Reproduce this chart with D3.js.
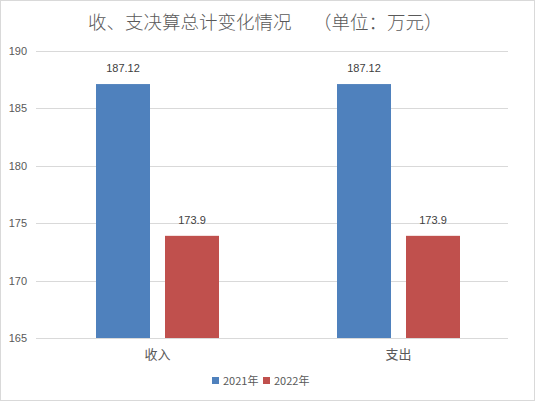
<!DOCTYPE html>
<html><head><meta charset="utf-8">
<script src="https://cdn.jsdelivr.net/npm/d3@7"></script>
<style>body{margin:0;background:#fff}svg{display:block}</style>
</head><body>
<svg id="c" width="535" height="401"></svg>
<script>
const categories = ["收入", "支出"];
const seriesNames = ["2021年", "2022年"];
const values2021 = [187.12, 187.12];
const values2022 = [173.9, 173.9];
const yTicks = [165, 170, 175, 180, 185, 190];
const titleParts = ["收、支决算总计变化情况", "（单位：万元）"];
const colors = ["#4F81BD", "#C0504D"];

const svg = d3.select("#c");
const W = 535, H = 401;
svg.append("rect").attr("x",0.5).attr("y",0.5).attr("width",W-1).attr("height",H-1)
  .attr("fill","#fff").attr("stroke","#d9d9d9");

const font = "'Noto Sans CJK SC', 'Noto Sans', sans-serif";
const plotL = 36, plotR = 508;
const y = d3.scaleLinear().domain([165,190]).range([338,51]);
const x = d3.scaleBand().domain(categories).range([37,519]).paddingInner(0).paddingOuter(0);

const titleX = [88, 313];
svg.append("g").selectAll("text").data(titleParts).join("text")
  .attr("x",(d,i)=>titleX[i]).attr("y",29).attr("text-anchor","start")
  .attr("font-family",font).attr("font-size",18.5).attr("font-weight",300).attr("fill","#595959")
  .text(d=>d);

// gridlines
svg.append("g").selectAll("line").data(yTicks).join("line")
  .attr("x1",plotL).attr("x2",plotR).attr("y1",d=>Math.round(y(d))+0.5).attr("y2",d=>Math.round(y(d))+0.5)
  .attr("stroke","#d9d9d9").attr("stroke-width",1);

// y axis labels
svg.append("g").selectAll("text").data(yTicks).join("text")
  .attr("x",27).attr("y",d=>y(d)+4).attr("text-anchor","end")
  .attr("font-family","'Liberation Sans', Arial, sans-serif").attr("font-size",11).attr("fill","#595959")
  .text(d=>d);

const series = [values2021, values2022];
const bw = 54, gap = 15;
series.forEach((vals, si) => {
  const g = svg.append("g");
  const bx = (c) => x(c) + (x.bandwidth() - (2*bw+gap))/2 + si*(bw+gap);
  g.selectAll("rect").data(categories).join("rect")
    .attr("x", (c)=>bx(c)).attr("width", bw)
    .attr("y", (c,i)=>y(vals[i])).attr("height",(c,i)=>y(165)-y(vals[i]))
    .attr("fill", colors[si]);
  g.selectAll("text").data(categories).join("text")
    .attr("x",(c)=>bx(c)+bw/2).attr("y",(c,i)=>y(vals[i])-12)
    .attr("text-anchor","middle").attr("font-family","'Liberation Sans', Arial, sans-serif")
    .attr("font-size",11).attr("fill","#404040").text((c,i)=>vals[i]);
});

// category labels
svg.append("g").selectAll("text").data(categories).join("text")
  .attr("x",c=>x(c)+x.bandwidth()/2).attr("y",359).attr("text-anchor","middle")
  .attr("font-family",font).attr("font-size",13).attr("fill","#595959").text(c=>c);

// legend
const lg = svg.append("g");
const lx = [212, 263];
seriesNames.forEach((s,i)=>{
  lg.append("rect").attr("x",lx[i]).attr("y",377).attr("width",7).attr("height",7).attr("fill",colors[i]);
  lg.append("text").attr("x",lx[i]+11).attr("y",385).attr("font-family",font)
    .attr("font-size",11).attr("fill","#595959").text(s);
});
</script>
</body></html>
